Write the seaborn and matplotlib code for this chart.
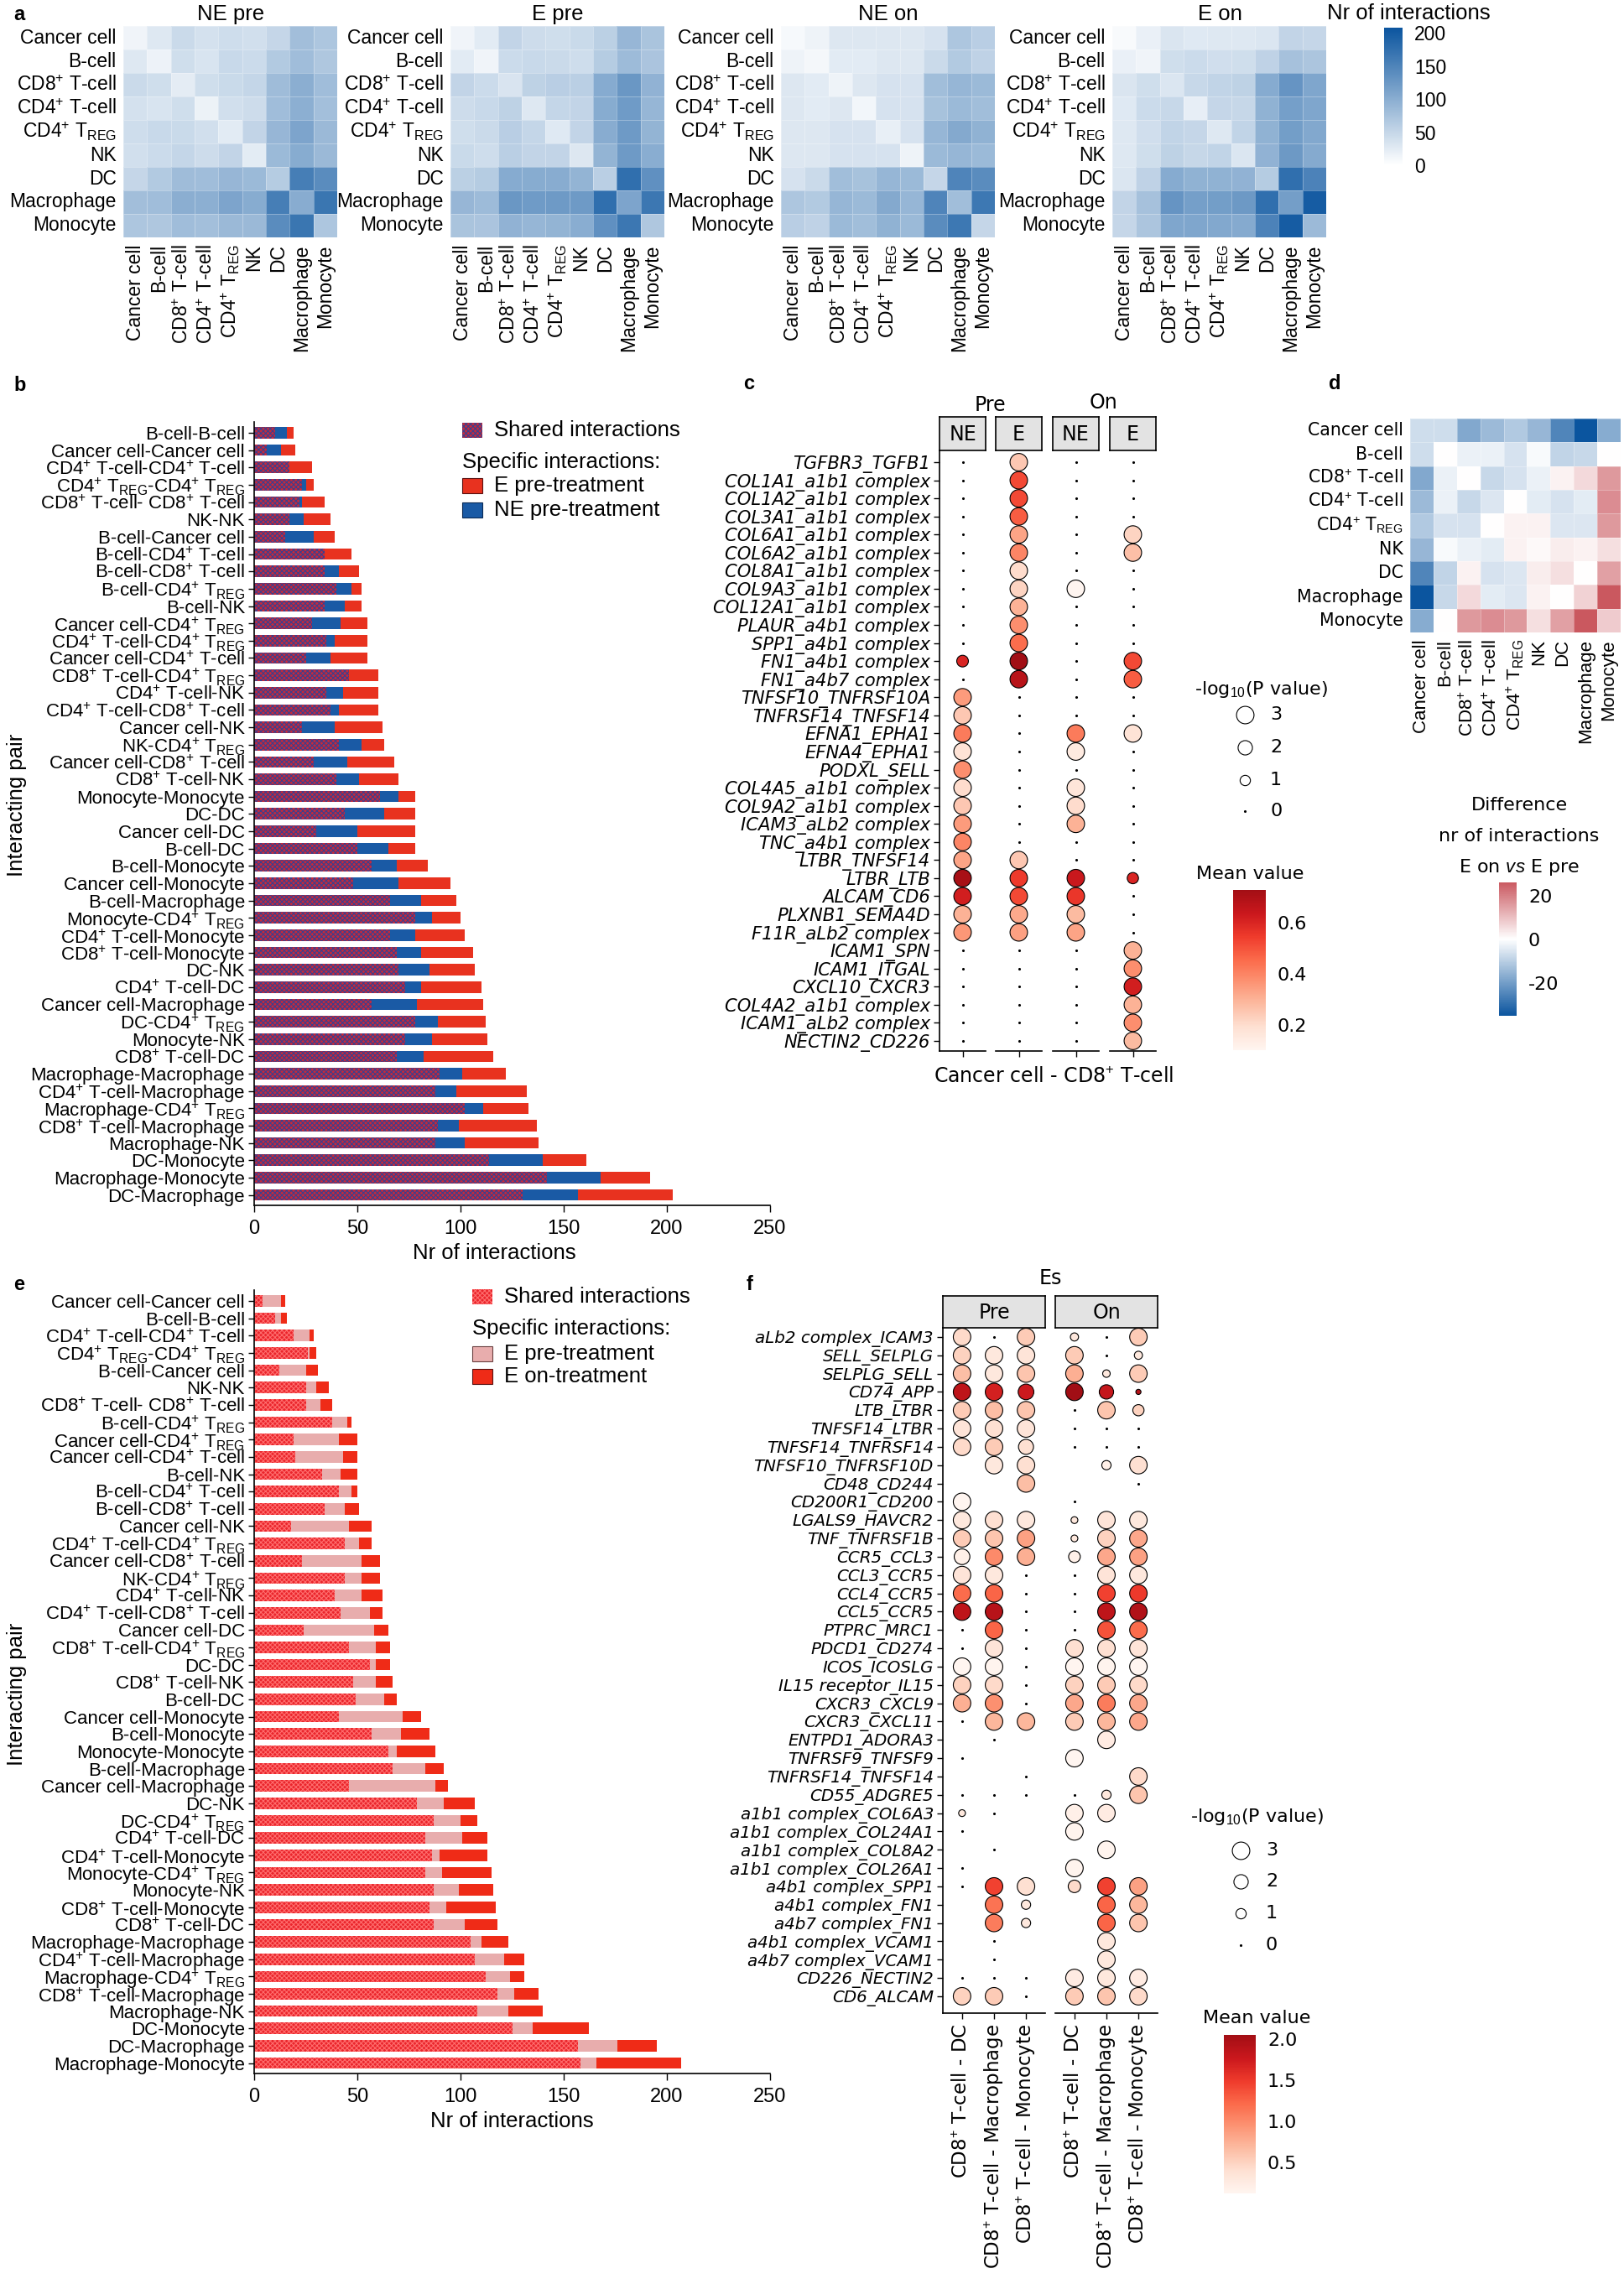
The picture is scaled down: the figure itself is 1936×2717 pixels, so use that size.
import numpy as np
import pandas as pd
import matplotlib
matplotlib.use("Agg")
import matplotlib as mpl
import matplotlib.pyplot as plt
from matplotlib.colors import LinearSegmentedColormap, Normalize
from matplotlib.patches import Rectangle
import seaborn as sns

sns.set_theme(style="ticks")
plt.rcParams['font.family'] = ['Liberation Sans', 'DejaVu Sans']
plt.rcParams['mathtext.fontset'] = 'custom'
plt.rcParams['mathtext.rm'] = 'Liberation Sans'
plt.rcParams['mathtext.it'] = 'Liberation Sans:italic'
plt.rcParams['hatch.linewidth'] = 0.8
plt.rcParams['axes.linewidth'] = 1.2
plt.rcParams['axes.edgecolor'] = 'black'
plt.rcParams['xtick.color'] = 'black'
plt.rcParams['ytick.color'] = 'black'
plt.rcParams['text.color'] = 'black'
DJ = 'DejaVu Sans'
NA = np.nan

# ================= data =================
CELLS = {'Ca': 'Cancer cell', 'B': 'B-cell', 'CD8': 'CD8+ T-cell', 'CD4': 'CD4+ T-cell',
         'Tr': 'CD4+ TREG', 'NK': 'NK', 'DC': 'DC', 'Mac': 'Macrophage', 'Mo': 'Monocyte'}
cell_codes = list(CELLS)

# panel b: E vs NE, pre-treatment
b_pairs = ['B-B', 'Ca-Ca', 'CD4-CD4', 'Tr-Tr', 'CD8-CD8', 'NK-NK', 'B-Ca', 'B-CD4', 'B-CD8',
           'B-Tr', 'B-NK', 'Ca-Tr', 'CD4-Tr', 'Ca-CD4', 'CD8-Tr', 'CD4-NK', 'CD4-CD8', 'Ca-NK',
           'NK-Tr', 'Ca-CD8', 'CD8-NK', 'Mo-Mo', 'DC-DC', 'Ca-DC', 'B-DC', 'B-Mo', 'Ca-Mo',
           'B-Mac', 'Mo-Tr', 'CD4-Mo', 'CD8-Mo', 'DC-NK', 'CD4-DC', 'Ca-Mac', 'DC-Tr', 'Mo-NK',
           'CD8-DC', 'Mac-Mac', 'CD4-Mac', 'Mac-Tr', 'CD8-Mac', 'Mac-NK', 'DC-Mo', 'Mac-Mo', 'DC-Mac']
b_shared = [10, 6, 17, 23, 22, 17, 15, 34, 34, 40, 34, 28, 35, 25, 46, 35, 37, 23, 41, 29, 40, 61, 44,
            30, 50, 57, 48, 66, 78, 66, 69, 70, 73, 57, 78, 73, 69, 90, 88, 102, 89, 88, 114, 142, 130]
b_ne = [6, 7, 0, 2, 1, 7, 14, 0, 7, 7, 10, 14, 4, 12, 0, 8, 4, 16, 11, 16, 11, 9, 19, 20, 15, 12, 22,
        15, 8, 12, 12, 15, 8, 22, 11, 13, 13, 11, 10, 9, 10, 14, 26, 26, 27]
b_e = [3, 7, 11, 4, 11, 13, 10, 13, 10, 5, 8, 13, 16, 18, 14, 17, 19, 23, 11, 23, 19, 8, 15, 28, 13,
       15, 25, 17, 14, 24, 25, 22, 29, 32, 23, 27, 34, 21, 34, 22, 38, 36, 21, 24, 46]
# NE on-treatment interaction counts (same pair order as b)
ne_on = [10, 8, 12, 20, 15, 15, 15, 25, 25, 30, 30, 30, 35, 30, 35, 35, 30, 30, 35, 30, 35, 50, 50,
         35, 45, 55, 60, 65, 95, 80, 85, 85, 75, 70, 90, 85, 80, 80, 85, 105, 90, 90, 140, 165, 150]

# panel e: E on vs E pre
e_pairs = ['Ca-Ca', 'B-B', 'CD4-CD4', 'Tr-Tr', 'B-Ca', 'NK-NK', 'CD8-CD8', 'B-Tr', 'Ca-Tr', 'Ca-CD4',
           'B-NK', 'B-CD4', 'B-CD8', 'Ca-NK', 'CD4-Tr', 'Ca-CD8', 'NK-Tr', 'CD4-NK', 'CD4-CD8', 'Ca-DC',
           'CD8-Tr', 'DC-DC', 'CD8-NK', 'B-DC', 'Ca-Mo', 'B-Mo', 'Mo-Mo', 'B-Mac', 'Ca-Mac', 'DC-NK',
           'DC-Tr', 'CD4-DC', 'CD4-Mo', 'Mo-Tr', 'Mo-NK', 'CD8-Mo', 'CD8-DC', 'Mac-Mac', 'CD4-Mac',
           'Mac-Tr', 'CD8-Mac', 'Mac-NK', 'DC-Mo', 'DC-Mac', 'Mac-Mo']
e_shared = [4, 10, 19, 26, 12, 25, 25, 38, 19, 20, 33, 41, 34, 18, 44, 23, 44, 39, 42, 24, 46, 56, 48,
            49, 41, 57, 65, 67, 46, 79, 87, 83, 86, 83, 87, 85, 87, 105, 107, 112, 118, 108, 125, 157, 158]
e_pre = [9, 3, 8, 1, 13, 5, 7, 7, 22, 23, 9, 6, 10, 28, 7, 29, 8, 13, 14, 34, 13, 3, 11, 14, 31, 14, 4,
         16, 42, 13, 13, 18, 4, 8, 12, 8, 15, 5, 14, 12, 8, 15, 10, 19, 8]
e_on = [2, 3, 2, 3, 6, 6, 6, 2, 9, 7, 8, 3, 7, 11, 6, 9, 9, 10, 6, 7, 7, 7, 8, 6, 9, 14, 19, 9, 6, 15,
        8, 12, 23, 24, 17, 24, 16, 13, 10, 7, 12, 17, 27, 19, 41]
# panel d: difference E on - E pre (same pair order as e)
d_diff = [-7, 0, -5, 2, -7, 1, 0, -6, -11, -14, -1, -3, -3, -15, 0, -18, 2, -4, -8, -25, -6, 5, -3,
          -9, -17, 0, 8, -8, -35, 3, -5, -6, 18, 16, 5, 16, 2, 7, -4, -5, 6, 2, 15, 0, 26]

# panel c: Cancer cell - CD8+ T-cell, columns NE pre, E pre, NE on, E on
c_rows = ['TGFBR3_TGFB1', 'COL1A1_a1b1 complex', 'COL1A2_a1b1 complex', 'COL3A1_a1b1 complex',
          'COL6A1_a1b1 complex', 'COL6A2_a1b1 complex', 'COL8A1_a1b1 complex', 'COL9A3_a1b1 complex',
          'COL12A1_a1b1 complex', 'PLAUR_a4b1 complex', 'SPP1_a4b1 complex', 'FN1_a4b1 complex',
          'FN1_a4b7 complex', 'TNFSF10_TNFRSF10A', 'TNFRSF14_TNFSF14', 'EFNA1_EPHA1', 'EFNA4_EPHA1',
          'PODXL_SELL', 'COL4A5_a1b1 complex', 'COL9A2_a1b1 complex', 'ICAM3_aLb2 complex',
          'TNC_a4b1 complex', 'LTBR_TNFSF14', 'LTBR_LTB', 'ALCAM_CD6', 'PLXNB1_SEMA4D',
          'F11R_aLb2 complex', 'ICAM1_SPN', 'ICAM1_ITGAL', 'CXCL10_CXCR3', 'COL4A2_a1b1 complex',
          'ICAM1_aLb2 complex', 'NECTIN2_CD226']
c_mean = [[NA, .25, NA, NA], [NA, .52, NA, NA], [NA, .52, NA, NA], [NA, .48, NA, NA],
          [NA, .33, NA, .22], [NA, .40, NA, .27], [NA, .20, NA, NA], [NA, .22, .10, NA],
          [NA, .30, NA, NA], [NA, .38, NA, NA], [NA, .45, NA, NA], [.60, .73, NA, .52],
          [NA, .68, NA, .48], [.35, NA, NA, NA], [.25, NA, NA, NA], [.42, NA, .42, .18],
          [.18, NA, .15, NA], [.38, NA, NA, NA], [.20, NA, .17, NA], [.25, NA, .20, NA],
          [.35, NA, .30, NA], [.40, NA, NA, NA], [.33, .25, NA, NA], [.72, .55, .64, .60],
          [.62, .52, .56, NA], [.30, .32, .28, NA], [.36, .34, .33, NA], [NA, NA, NA, .30],
          [NA, NA, NA, .38], [NA, NA, NA, .62], [NA, NA, NA, .30], [NA, NA, NA, .38], [NA, NA, NA, .28]]
c_logp = [[0, 3, 0, 0], [0, 3, 0, 0], [0, 3, 0, 0], [0, 3, 0, 0], [0, 3, 0, 3], [0, 3, 0, 3],
          [0, 3, 0, 0], [0, 3, 3, 0], [0, 3, 0, 0], [0, 3, 0, 0], [0, 3, 0, 0], [1.3, 3, 0, 3],
          [0, 3, 0, 3], [3, 0, 0, 0], [3, 0, 0, 0], [3, 0, 3, 3], [3, 0, 3, 0], [3, 0, 0, 0],
          [3, 0, 3, 0], [3, 0, 3, 0], [3, 0, 3, 0], [3, 0, 0, 0], [3, 3, 0, 0], [3, 3, 3, 1.2],
          [3, 3, 3, 0], [3, 3, 3, 0], [3, 3, 3, 0], [0, 0, 0, 3], [0, 0, 0, 3], [0, 0, 0, 3],
          [0, 0, 0, 3], [0, 0, 0, 3], [0, 0, 0, 3]]

# panel f: Es, pre and on, CD8+ T-cell with DC / Macrophage / Monocyte
f_rows = ['aLb2 complex_ICAM3', 'SELL_SELPLG', 'SELPLG_SELL', 'CD74_APP', 'LTB_LTBR', 'TNFSF14_LTBR',
          'TNFSF14_TNFRSF14', 'TNFSF10_TNFRSF10D', 'CD48_CD244', 'CD200R1_CD200', 'LGALS9_HAVCR2',
          'TNF_TNFRSF1B', 'CCR5_CCL3', 'CCL3_CCR5', 'CCL4_CCR5', 'CCL5_CCR5', 'PTPRC_MRC1',
          'PDCD1_CD274', 'ICOS_ICOSLG', 'IL15 receptor_IL15', 'CXCR3_CXCL9', 'CXCR3_CXCL11',
          'ENTPD1_ADORA3', 'TNFRSF9_TNFSF9', 'TNFRSF14_TNFSF14', 'CD55_ADGRE5',
          'a1b1 complex_COL6A3', 'a1b1 complex_COL24A1', 'a1b1 complex_COL8A2',
          'a1b1 complex_COL26A1', 'a4b1 complex_SPP1', 'a4b1 complex_FN1', 'a4b7 complex_FN1',
          'a4b1 complex_VCAM1', 'a4b7 complex_VCAM1', 'CD226_NECTIN2', 'CD6_ALCAM']
f_cols = ['CD8+ T-cell - DC', 'CD8+ T-cell - Macrophage', 'CD8+ T-cell - Monocyte']
f_mean = [[.45, NA, .55, .30, NA, .55], [.50, .30, .35, .55, NA, .30], [.65, .30, .60, .75, .30, .55],
          [1.85, 1.70, 1.75, 2.05, 1.80, 1.90], [.55, .65, .60, NA, .60, .50], [.35, .40, .35, NA, NA, NA],
          [.45, .55, .40, NA, NA, NA], [NA, .30, .40, NA, .20, .40], [NA, NA, .65, NA, NA, NA],
          [.12, NA, NA, NA, NA, NA], [.30, .40, .30, .30, .35, .30], [.55, .60, .85, .30, .50, .80],
          [.20, 1.0, .75, .20, .80, .85], [.35, .30, NA, NA, .35, .30], [1.20, 1.25, NA, NA, 1.45, 1.50],
          [1.85, 1.90, NA, NA, 1.85, 1.95], [NA, 1.25, NA, NA, 1.35, 1.20], [NA, .35, NA, .40, .40, .35],
          [.12, .15, NA, .12, .15, .12], [.50, .45, NA, .50, .55, .45], [.75, .95, NA, .80, 1.10, .80],
          [NA, .70, .70, .55, .70, .80], [NA, NA, NA, NA, .25, NA], [NA, NA, NA, .12, NA, NA],
          [NA, NA, NA, NA, NA, .45], [NA, NA, NA, NA, .30, .60], [.30, NA, NA, .20, .25, NA],
          [NA, NA, NA, .15, NA, NA], [NA, NA, NA, NA, .15, NA], [NA, NA, NA, .15, NA, NA],
          [NA, 1.45, .40, .45, 1.45, .85], [NA, 1.15, .30, NA, 1.25, .70], [NA, 1.10, .30, NA, 1.25, .60],
          [NA, NA, NA, NA, .30, NA], [NA, NA, NA, NA, .30, NA], [NA, NA, NA, .25, .30, .25],
          [.50, .55, NA, .55, .60, .45]]
f_logp = [[3, 0, 3, .6, 0, 3], [3, 3, 3, 3, 0, .6], [3, 3, 3, 3, .5, 3], [3, 3, 2.4, 3, 2, .2],
          [3, 3, 3, 0, 3, 1.2], [3, 3, 3, 0, 0, 0], [3, 3, 2.2, 0, 0, 0], [NA, 3, 3, NA, .8, 3],
          [NA, NA, 3, NA, NA, 0], [3, NA, NA, 0, NA, NA], [3, 3, 3, .4, 3, 3], [3, 3, 3, .4, 3, 3],
          [2.4, 3, 3, 1.3, 3, 3], [3, 3, 0, 0, 3, 3], [3, 3, 0, 0, 3, 3], [3, 3, 0, 0, 3, 3],
          [0, 3, 0, 0, 3, 3], [0, 3, 0, 3, 3, 3], [3, 3, 0, 3, 3, 3], [3, 3, 0, 3, 3, 3],
          [3, 3, 0, 3, 3, 3], [0, 3, 3, 3, 3, 3], [NA, 0, NA, NA, 3, NA], [0, NA, NA, 3, NA, NA],
          [NA, NA, 0, NA, NA, 3], [0, 0, 0, 0, .8, 3], [.4, 0, NA, 3, 3, NA], [0, NA, NA, 3, NA, NA],
          [NA, 0, NA, NA, 3, NA], [0, NA, NA, 3, NA, NA], [0, 3, 3, 1.5, 3, 3], [NA, 3, .8, NA, 3, 3],
          [NA, 3, .8, NA, 3, 3], [NA, 0, NA, NA, 3, NA], [NA, 0, NA, NA, 3, NA], [0, 0, 0, 3, 3, 3],
          [3, 3, 0, 3, 3, 3]]
# ========================================


def tex(s):
    s = s.replace('CD8+', 'CD8$^{+}$').replace('CD4+', 'CD4$^{+}$')
    return s.replace('TREG', 'T$_{\\mathrm{REG}}$')


def pair_label(p):
    a, b = p.split('-')
    sep = '- ' if a == b == 'CD8' else '-'
    return tex(CELLS[a] + sep + CELLS[b])


def pair_matrix(pairs, values):
    m = np.zeros((len(cell_codes), len(cell_codes)))
    for p, v in zip(pairs, values):
        i, j = (cell_codes.index(c) for c in p.split('-'))
        m[i, j] = m[j, i] = v
    return m


cell_tex = [tex(CELLS[c]) for c in cell_codes]

W, H = 1936, 2717
fig = plt.figure(figsize=(W / 100, H / 100), dpi=100)


def box(x0, y0, x1, y1):
    return fig.add_axes([x0 / W, 1 - y1 / H, (x1 - x0) / W, (y1 - y0) / H])


ov = box(0, 0, W, H)
ov.set_xlim(0, W)
ov.set_ylim(H, 0)
ov.axis('off')
ov.set_zorder(10)
ov.set_autoscale_on(False)

for lab, x, y in [('a', 16, 18), ('b', 16, 460), ('c', 886, 458), ('d', 1584, 458),
                  ('e', 16, 1531), ('f', 890, 1532)]:
    ov.text(x, y, lab, fontsize=17, fontweight='bold', ha='left', va='center')


def colorbar(px, cmap, norm, lo, hi, ticks, fmt, size, family, white_ticks=True):
    cax = box(*px)
    sm = mpl.cm.ScalarMappable(norm=norm, cmap=cmap)
    cb = fig.colorbar(sm, cax=cax, boundaries=np.linspace(lo, hi, 256), ticks=ticks, format=fmt)
    cb.outline.set_visible(False)
    if white_ticks:
        cax.tick_params(direction='in', length=6, width=1, color='white', left=True, right=True,
                        labelsize=size, pad=10)
    else:
        cax.tick_params(length=0, labelsize=size, pad=10)
    for t in cax.get_yticklabels():
        t.set_family(family)
    return cax


# ---------------- panel a ----------------
blues = LinearSegmentedColormap.from_list('nr', ['#ffffff', '#0b559f'])
A_MAX = 208
ne_pre_m = pair_matrix(b_pairs, np.add(b_shared, b_ne))
e_pre_m = pair_matrix(b_pairs, np.add(b_shared, b_e))
ne_on_m = pair_matrix(b_pairs, ne_on)
e_on_m = pair_matrix(e_pairs, np.add(e_shared, e_on))
for title, mat, x0 in [('NE pre', ne_pre_m, 147), ('E pre', e_pre_m, 537),
                       ('NE on', ne_on_m, 931), ('E on', e_on_m, 1326)]:
    ax = box(x0, 31, x0 + 255, 283)
    sns.heatmap(mat, ax=ax, cmap=blues, vmin=0, vmax=A_MAX, cbar=False,
                linewidths=0.5, linecolor=(1, 1, 1, 0.3))
    ax.set_xticks(np.arange(9) + 0.5)
    ax.set_yticks(np.arange(9) + 0.5)
    ax.set_xticklabels(cell_tex, rotation=90, fontsize=16.5)
    ax.set_yticklabels(cell_tex, rotation=0, fontsize=16.5)
    ax.tick_params(length=0, pad=6)
    ov.text(x0 + 128, 17, title, fontsize=18.5, ha='center', va='center')

ov.text(1582, 16, 'Nr of interactions', fontsize=18.5, ha='left', va='center')
colorbar((1650, 33, 1672, 197), blues, Normalize(0, A_MAX), 0, A_MAX, [0, 50, 100, 150, 200],
         '%d', 16.5, 'Liberation Sans', white_ticks=False)


# ---------------- panels b / e ----------------
def stacked(px, pairs, shared, mid, top, c_shared, c_mid, c_top, hatch_col):
    ax = box(*px)
    s = np.array(shared, float)
    m = s + np.array(mid)
    t = m + np.array(top)
    df = pd.DataFrame({'pair': [pair_label(p) for p in pairs], 'shared': s, 'mid': m, 'total': t})
    common = dict(data=df, y='pair', orient='h', width=0.66, saturation=1, errorbar=None, ax=ax)
    sns.barplot(x='total', color=c_top, linewidth=0, **common)
    sns.barplot(x='mid', color=c_mid, linewidth=0, **common)
    sns.barplot(x='shared', color=c_shared, linewidth=0, hatch='xxxxxx', edgecolor=hatch_col, **common)
    ax.set_xlim(0, 250)
    ax.set_ylim(len(pairs) - 0.4, -0.63)
    ax.set_xticks(range(0, 251, 50))
    ax.set(xlabel='', ylabel='')
    sns.despine(ax=ax)
    ax.tick_params(axis='y', length=5, width=1, pad=3, labelsize=16)
    ax.tick_params(axis='x', length=6, width=1, pad=6, labelsize=17)
    return ax


def legend_key(x, y, face, hatch=None, hatch_col=None, edge='none'):
    ov.add_patch(Rectangle((x, y - 9), 24, 18, facecolor=face, hatch=hatch,
                           edgecolor=hatch_col if hatch else edge, lw=0 if hatch else 0.8))


B_SHARED, B_HATCH, B_NE, B_E = '#c42a3c', '#3b3f8f', '#1a5aa5', '#e8321f'
stacked((303, 503, 918, 1437), b_pairs, b_shared, b_ne, b_e, B_SHARED, B_NE, B_E, B_HATCH)
ov.text(589, 1494, 'Nr of interactions', fontsize=18.5, ha='center', va='center')
ov.text(20, 960, 'Interacting pair', fontsize=18.5, rotation=90, ha='center', va='center')
legend_key(551, 513, B_SHARED, 'xxxxxx', B_HATCH)
ov.text(589, 513, 'Shared interactions', fontsize=18.5, va='center')
ov.text(551, 551, 'Specific interactions:', fontsize=18.5, va='center')
legend_key(551, 579, B_E, edge='#5a1010')
ov.text(589, 579, 'E pre-treatment', fontsize=18.5, va='center')
legend_key(551, 608, B_NE, edge='#0a2a55')
ov.text(589, 608, 'NE pre-treatment', fontsize=18.5, va='center')

E_SHARED, E_HATCH, E_PRE, E_ON = '#ea252c', '#ff6e6e', '#e8adad', '#ef2b17'
stacked((303, 1538, 918, 2472), e_pairs, e_shared, e_pre, e_on, E_SHARED, E_PRE, E_ON, E_HATCH)
ov.text(610, 2529, 'Nr of interactions', fontsize=18.5, ha='center', va='center')
ov.text(20, 2020, 'Interacting pair', fontsize=18.5, rotation=90, ha='center', va='center')
legend_key(563, 1546, E_SHARED, 'xxxxxx', E_HATCH)
ov.text(601, 1546, 'Shared interactions', fontsize=18.5, va='center')
ov.text(563, 1584, 'Specific interactions:', fontsize=18.5, va='center')
legend_key(563, 1614, E_PRE, edge='#6a4040')
ov.text(601, 1614, 'E pre-treatment', fontsize=18.5, va='center')
legend_key(563, 1641, E_ON, edge='#5a1010')
ov.text(601, 1641, 'E on-treatment', fontsize=18.5, va='center')

# ---------------- dot plots c / f ----------------
reds = LinearSegmentedColormap.from_list('mv', plt.get_cmap('Reds')(np.linspace(0, 0.88, 256)))
S0, S3 = 5, 225


def size_of(v):
    return S0 + (S3 - S0) * np.asarray(v, float) / 3


def dot_facet(ax, cols, mean, logp, lims):
    recs = [(j, i, mean[i, c], logp[i, c]) for j, c in enumerate(cols) for i in range(mean.shape[0])]
    df = pd.DataFrame(recs, columns=['x', 'y', 'mean', 'logp']).dropna(subset=['logp'])
    circ = df[df['logp'] > 0]
    dots = df[df['logp'] == 0]
    sns.scatterplot(data=circ, x='x', y='y', hue='mean', size='logp', palette=reds, hue_norm=lims,
                    sizes=(S0, S3), size_norm=(0, 3), edgecolor='black', linewidth=0.8,
                    legend=False, ax=ax, zorder=3, clip_on=False)
    sns.scatterplot(data=dots, x='x', y='y', color='black', s=S0, linewidth=0, legend=False,
                    ax=ax, zorder=3, clip_on=False)
    ax.set(xlabel='', ylabel='')


def strip(x0, y0, x1, y1, label):
    s = box(x0, y0, x1, y1)
    s.set_facecolor('#e3e3e3')
    s.set_xticks([])
    s.set_yticks([])
    for sp in s.spines.values():
        sp.set_color('black')
        sp.set_linewidth(1.2)
    s.text(0.5, 0.47, label, transform=s.transAxes, ha='center', va='center', fontsize=17, family=DJ)


def size_legend(x, y_title, ys):
    ov.text(x - 60, y_title, '-log$_{10}$(P value)', fontsize=16, family=DJ, va='center')
    for v, y in zip([3, 2, 1, 0], ys):
        if v:
            ov.scatter([x], [y], s=size_of(v), facecolor='white', edgecolor='black', lw=0.8)
        else:
            ov.scatter([x], [y], s=S0, color='black', lw=0)
        ov.text(x + 30, y, str(v), fontsize=16, family=DJ, va='center')


c_m = np.array(c_mean, float)
c_p = np.array(c_logp, float)
c_lims = (np.nanmin(c_m[c_p > 0]), np.nanmax(c_m[c_p > 0]))
nc = len(c_rows)
for k, (L, lab) in enumerate(zip([1120, 1187, 1255, 1323], ['NE', 'E', 'NE', 'E'])):
    ax = box(L, 537, L + 55, 1253)
    dot_facet(ax, [k], c_m, c_p, c_lims)
    ax.set_xlim(-0.5, 0.5)
    ax.set_ylim(nc - 0.44, -0.65)
    ax.set_xticks([0])
    ax.set_xticklabels([])
    ax.tick_params(axis='x', length=5, width=1)
    ax.spines[['top', 'right']].set_visible(False)
    if k == 0:
        ax.set_yticks(range(nc))
        ax.set_yticklabels(c_rows, fontsize=15.2, family=DJ, fontstyle='italic')
        ax.tick_params(axis='y', length=5, width=1, pad=3)
    else:
        ax.spines['left'].set_visible(False)
        ax.set_yticks([])
    strip(L, 497, L + 55, 537, lab)
ov.text(1180, 483, 'Pre', fontsize=17, family=DJ, ha='center', va='center')
ov.text(1315, 480, 'On', fontsize=17, family=DJ, ha='center', va='center')
ov.text(1256, 1283, 'Cancer cell - CD8$^{+}$ T-cell', fontsize=17, family=DJ, ha='center', va='center')
size_legend(1484, 822, [852, 891, 930, 967])
ov.text(1490, 1042, 'Mean value', fontsize=16, family=DJ, ha='center', va='center')
colorbar((1470, 1061, 1509, 1252), reds, Normalize(*c_lims), c_lims[0], c_lims[1],
         [0.2, 0.4, 0.6], '%.1f', 16, DJ)

f_m = np.array(f_mean, float)
f_p = np.array(f_logp, float)
f_lims = (np.nanmin(f_m[f_p > 0]), np.nanmax(f_m[f_p > 0]))
nf = len(f_rows)
for k, (L, lab) in enumerate(zip([1124, 1258], ['Pre', 'On'])):
    ax = box(L, 1583, L + 122, 2400)
    dot_facet(ax, [3 * k, 3 * k + 1, 3 * k + 2], f_m, f_p, f_lims)
    ax.set_xlim(-0.6, 2.6)
    ax.set_ylim(nf - 0.08, -0.5)
    ax.set_xticks([0, 1, 2])
    ax.set_xticklabels([tex(c) for c in f_cols], rotation=90, fontsize=16.5, family=DJ)
    ax.tick_params(axis='x', length=5, width=1, pad=4)
    ax.spines[['top', 'right']].set_visible(False)
    if k == 0:
        ax.set_yticks(range(nf))
        ax.set_yticklabels(f_rows, fontsize=14.3, family=DJ, fontstyle='italic')
        ax.tick_params(axis='y', length=5, width=1, pad=3)
    else:
        ax.spines['left'].set_visible(False)
        ax.set_yticks([])
    strip(L, 1545, L + 122, 1583, lab)
ov.text(1252, 1524, 'Es', fontsize=17, family=DJ, ha='center', va='center')
size_legend(1479, 2166, [2206, 2243, 2281, 2319])
ov.text(1498, 2406, 'Mean value', fontsize=16, family=DJ, ha='center', va='center')
colorbar((1459, 2426, 1497, 2615), reds, Normalize(*f_lims), f_lims[0], f_lims[1],
         [0.5, 1.0, 1.5, 2.0], '%.1f', 16, DJ)

# ---------------- panel d ----------------
d_mat = pair_matrix(e_pairs, d_diff)
d_abs = np.abs(d_mat).max()
rdbu = LinearSegmentedColormap.from_list('diff', ['#0b559f', '#ffffff', '#b8202a'])
axd = box(1681, 499, 1932, 754)
sns.heatmap(d_mat, ax=axd, cmap=rdbu, vmin=-d_abs, vmax=d_abs, cbar=False,
            linewidths=0.5, linecolor=(1, 1, 1, 0.3))
axd.set_xticks(np.arange(9) + 0.5)
axd.set_yticks(np.arange(9) + 0.5)
axd.set_xticklabels(cell_tex, rotation=90, fontsize=16)
axd.set_yticklabels(cell_tex, rotation=0, fontsize=14.8, family=DJ)
axd.tick_params(length=0, pad=6)
for i, line in enumerate(['Difference', 'nr of interactions', 'E on $\\mathit{vs}$ E pre']):
    ov.text(1811, 960 + 37 * i, line, fontsize=16, family=DJ, ha='center', va='center')
colorbar((1787, 1052, 1808, 1211), rdbu, Normalize(-d_abs, d_abs), d_mat.min(), d_mat.max(),
         [-20, 0, 20], '%d', 16, DJ)

fig.savefig('out.png', dpi=100)
